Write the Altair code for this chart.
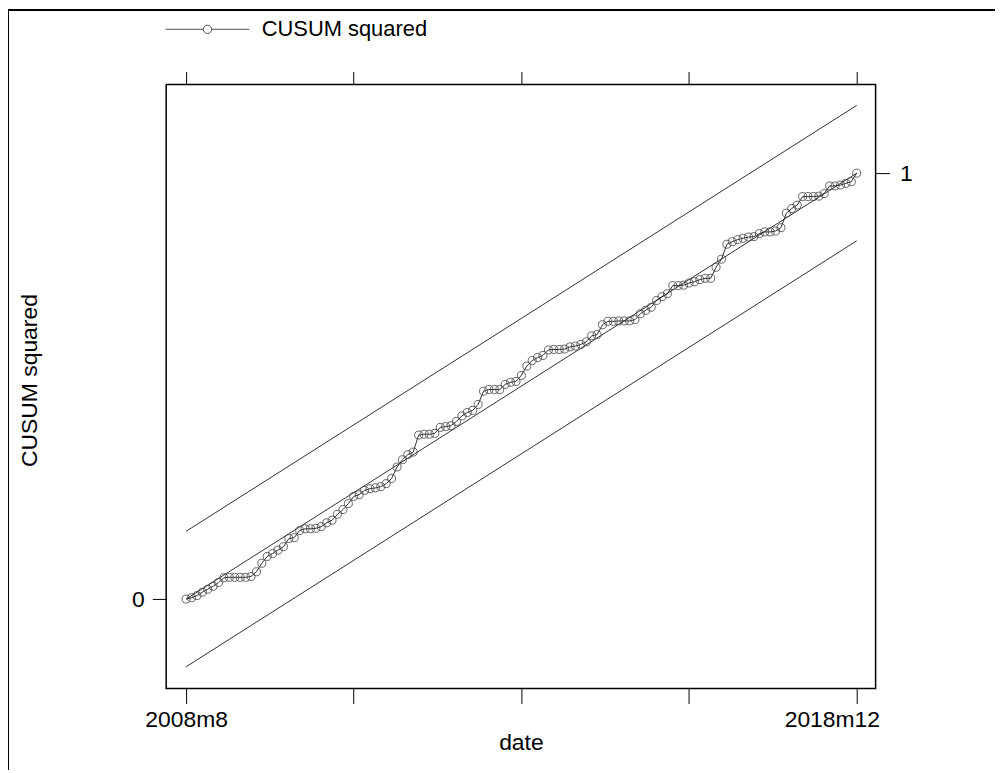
import altair as alt
import pandas as pd

# month index 0 = 2008m8 ... 124 = 2018m12
cusum_sq = [
    0.000, 0.003, 0.008, 0.016, 0.023, 0.030, 0.039, 0.050, 0.051, 0.051,
    0.051, 0.051, 0.053, 0.064, 0.084, 0.100, 0.107, 0.115, 0.123, 0.142,
    0.144, 0.161, 0.165, 0.165, 0.166, 0.170, 0.179, 0.185, 0.199, 0.210,
    0.224, 0.241, 0.245, 0.255, 0.259, 0.261, 0.264, 0.271, 0.283, 0.310,
    0.327, 0.339, 0.345, 0.385, 0.387, 0.387, 0.389, 0.403, 0.405, 0.407,
    0.417, 0.430, 0.438, 0.443, 0.457, 0.488, 0.492, 0.492, 0.492, 0.504,
    0.509, 0.511, 0.525, 0.547, 0.560, 0.567, 0.572, 0.585, 0.586, 0.586,
    0.587, 0.592, 0.594, 0.598, 0.604, 0.618, 0.621, 0.644, 0.652, 0.652,
    0.653, 0.653, 0.653, 0.656, 0.670, 0.678, 0.685, 0.701, 0.710, 0.717,
    0.736, 0.736, 0.737, 0.742, 0.745, 0.750, 0.753, 0.753, 0.779, 0.798,
    0.833, 0.839, 0.844, 0.847, 0.850, 0.851, 0.858, 0.862, 0.862, 0.864,
    0.872, 0.906, 0.917, 0.925, 0.945, 0.945, 0.945, 0.946, 0.952, 0.970,
    0.970, 0.972, 0.976, 0.980, 1.000,
]
months = list(range(len(cusum_sq)))

# straight reference lines (endpoints)
ref_x = [0, 124]
ref_mid = [0.0, 1.0]
ref_upper = [0.159, 1.159]
ref_lower = [-0.159, 0.841]

tick_values = [0, 31, 62, 93, 124]
tick_labels = {0: "2008m8", 124: "2018m12"}

FONT = "Liberation Sans"
FS = 23
LFS = 22

df = pd.DataFrame({"t": months, "v": cusum_sq, "series": "CUSUM squared"})
ref_rows = []
for name, ys in (("mid", ref_mid), ("upper", ref_upper), ("lower", ref_lower)):
    for x, y in zip(ref_x, ys):
        ref_rows.append({"t": x, "v": y, "line": name})
refdf = pd.DataFrame(ref_rows)

xscale = alt.Scale(domain=[-3.68, 127.5], nice=False, zero=False)
yscale = alt.Scale(domain=[-0.210, 1.208], nice=False, zero=False)

label_expr = " : ".join(
    f"datum.value == {k} ? '{v}'" for k, v in tick_labels.items()) + " : ''"

x_bottom = alt.X("t:Q", scale=xscale, axis=alt.Axis(
    orient="bottom", values=tick_values, labelExpr=label_expr, tickSize=15,
    domain=False, grid=False, title="date", titleY=54, titleBaseline="middle",
    labelPadding=5, labelFont=FONT, labelFontSize=FS, titleFont=FONT,
    titleFontSize=FS, titleFontWeight="normal", labelColor="black",
    titleColor="black", tickColor="black", labelFlush=19.5,
    labelFlushOffset=23))
x_top = alt.X("t:Q", scale=xscale, axis=alt.Axis(
    orient="top", values=tick_values, labels=False, tickSize=13,
    domain=False, grid=False, title=None, tickColor="black"))
y_left = alt.Y("v:Q", scale=yscale, axis=alt.Axis(
    orient="left", values=[0], tickSize=14, domain=False, grid=False,
    title="CUSUM squared", titleX=-137, titleY=297, titleAngle=270,
    titleAlign="center", titleBaseline="middle", labelPadding=8,
    labelFont=FONT, labelFontSize=FS, titleFont=FONT, titleFontSize=FS,
    titleFontWeight="normal", labelColor="black", titleColor="black",
    tickColor="black"))
y_right = alt.Y("v:Q", scale=yscale, axis=alt.Axis(
    orient="right", values=[1], tickSize=14, domain=False, grid=False,
    title=None, labelPadding=10, labelFont=FONT, labelFontSize=FS,
    labelColor="black", tickColor="black"))

refs = alt.Chart(refdf).mark_line(color="#1a1a1a", strokeWidth=0.9).encode(
    x=x_bottom, y=y_left, detail="line:N")

cline = alt.Chart(df).mark_line(color="#1a1a1a", strokeWidth=0.9).encode(
    x=x_top, y=y_right)

legend_path = ("M-1,0L-0.1,0M0.1,0L1,0"
               "M0.1,0A0.1,0.1,0,1,1,-0.1,0A0.1,0.1,0,1,1,0.1,0")

pts = alt.Chart(df).mark_point(shape="circle", filled=False, size=65,
                               strokeWidth=0.8, opacity=1).encode(
    x=alt.X("t:Q", scale=xscale, axis=None),
    y=alt.Y("v:Q", scale=yscale, axis=None),
    color=alt.Color("series:N", scale=alt.Scale(range=["#404040"]),
                    legend=alt.Legend(
                        title=None, orient="none", legendX=-1, legendY=-98,
                        symbolType=legend_path, symbolSize=7056,
                        symbolStrokeWidth=0.9, symbolStrokeColor="#1a1a1a",
                        labelOffset=12, labelFont=FONT, labelFontSize=LFS,
                        labelColor="black", padding=0, symbolOffset=0,
                        labelLimit=400)))

# outer graph-region frame (top and left edges visible)
frame_top = alt.Chart(df).mark_rule(color="black", strokeWidth=2).encode(
    x=alt.value(-160), x2=alt.value(860), y=alt.value(-75))
frame_left = alt.Chart(df).mark_rule(color="black", strokeWidth=2).encode(
    x=alt.value(-159), y=alt.value(-76), y2=alt.value(700))

chart = alt.layer(refs, cline, pts, frame_top, frame_left).resolve_axis(
    x="independent", y="independent"
).properties(
    width=713, height=607,
    autosize=alt.AutoSizeParams(type="none"),
    padding={"left": 159, "top": 75, "right": 120, "bottom": 80},
).configure(
    background="white",
    view=alt.ViewConfig(stroke="black", strokeWidth=1.5),
)

chart.save("out.html", embed_options={"renderer": "svg", "actions": False})
